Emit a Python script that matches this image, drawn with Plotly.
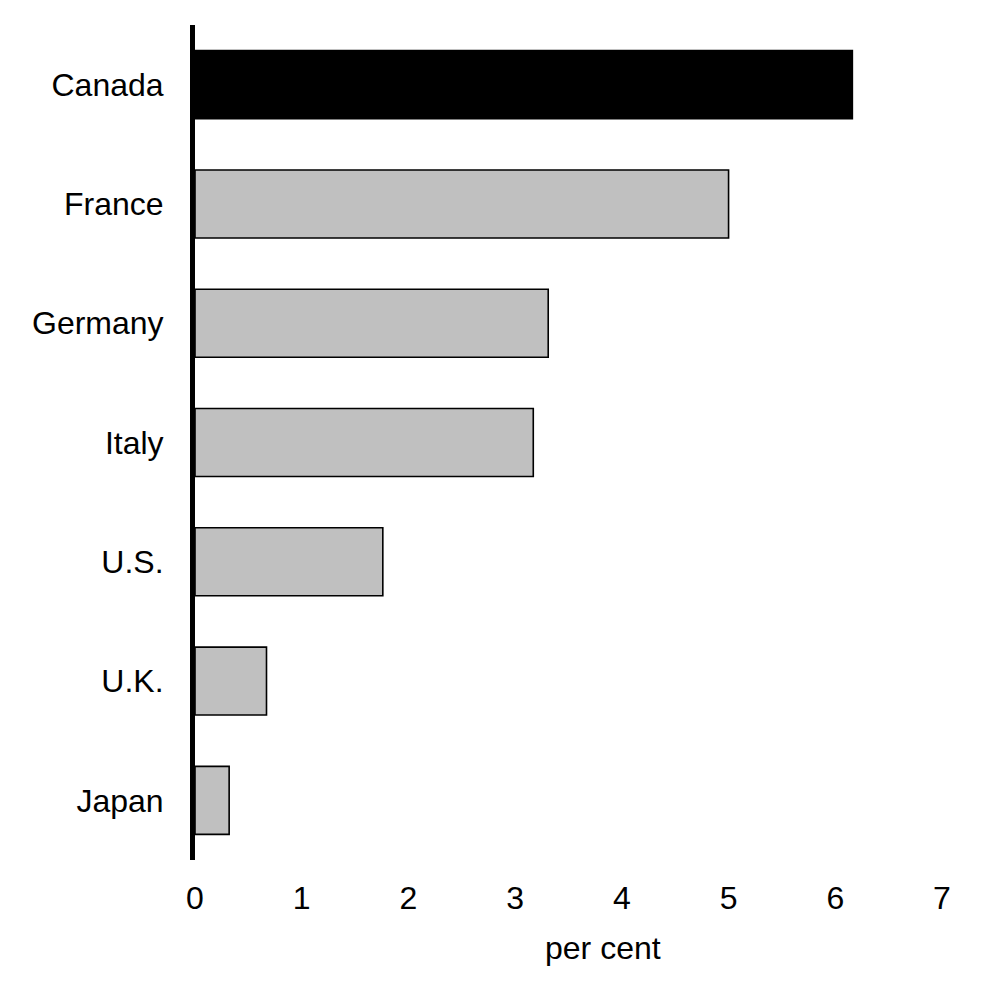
import plotly.graph_objects as go

countries = ["Canada", "France", "Germany", "Italy", "U.S.", "U.K.", "Japan"]
values = [6.16, 5.00, 3.31, 3.17, 1.76, 0.67, 0.32]
bar_colors = ["#000000", "#c0c0c0", "#c0c0c0", "#c0c0c0", "#c0c0c0", "#c0c0c0", "#c0c0c0"]
x_ticks = [0, 1, 2, 3, 4, 5, 6, 7]

FONT = "Liberation Sans, Arial, sans-serif"

fig = go.Figure()
fig.add_trace(go.Bar(
    x=values,
    y=countries,
    orientation="h",
    marker=dict(color=bar_colors, line=dict(color="black", width=1.6)),
    hoverinfo="x+y",
))

fig.update_layout(
    width=996,
    height=996,
    margin=dict(l=187, r=62, t=17, b=144),
    plot_bgcolor="white",
    paper_bgcolor="white",
    showlegend=False,
    bargap=0.43,
    font=dict(family=FONT, size=32, color="black"),
    xaxis=dict(
        range=[0, 7],
        tickvals=x_ticks,
        showgrid=False,
        zeroline=False,
        showline=False,
        ticks="",
        ticklabelstandoff=16,
        tickfont=dict(size=32),
    ),
    yaxis=dict(
        categoryorder="array",
        categoryarray=countries[::-1],
        showgrid=False,
        zeroline=False,
        showline=True,
        linecolor="black",
        linewidth=5,
        ticks="",
        ticklabelstandoff=20,
        tickfont=dict(size=32),
    ),
    annotations=[dict(
        text="per cent",
        xref="paper", yref="paper",
        x=0.546, y=0,
        xanchor="center", yanchor="top",
        yshift=-68,
        showarrow=False,
        font=dict(size=32),
    )],
)

fig.write_html("out.html")
